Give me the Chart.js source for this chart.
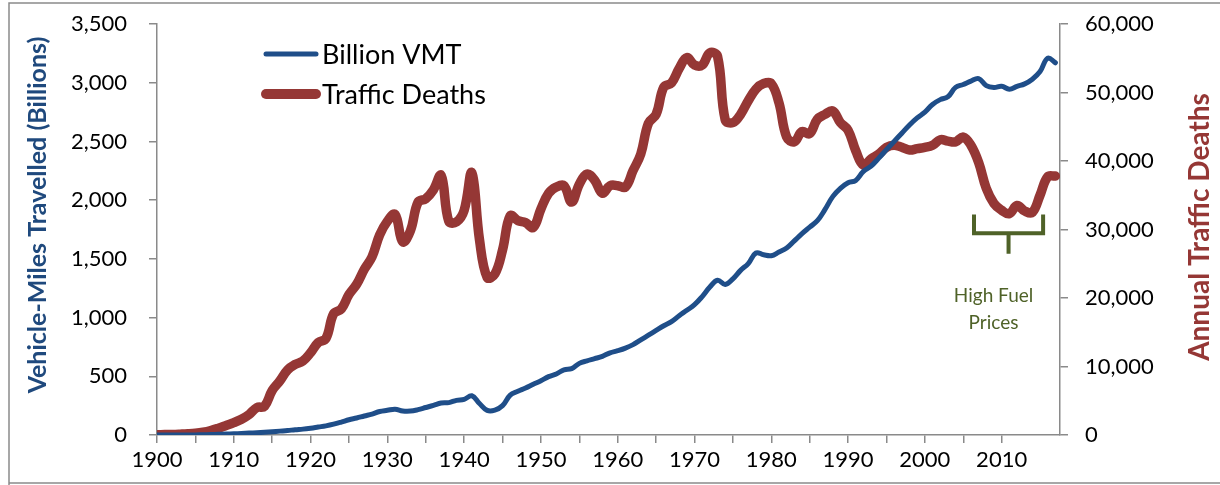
<!DOCTYPE html>
<html>
<head>
<meta charset="utf-8">
<script src="https://cdn.jsdelivr.net/npm/chart.js@4.4.1/dist/chart.umd.min.js"></script>
<style>
  body { margin: 0; background: #fff; }
  #grafico { display: block; }
</style>
</head>
<body>
<canvas id="grafico" width="1220" height="485"></canvas>
<script>
// years 1900..2017
const years = Array.from({ length: 118 }, (_, i) => 1900 + i);

// billions of vehicle-miles travelled (left axis)
const vmtBillions = [
  0, 0, 0, 0, 0, 1, 2, 4, 6, 8,
  10, 13, 16, 20, 24, 28, 33, 38, 45, 50,
  58, 68, 78, 92, 110, 130, 145, 162, 178, 200,
  210, 220, 205, 204, 216, 234, 252, 272, 276, 295,
  303, 334, 268, 210, 212, 250, 340, 372, 400, 432,
  462, 497, 520, 555, 565, 610, 632, 650, 670, 700,
  718, 740, 770, 810, 850, 890, 930, 965, 1016, 1062,
  1110, 1179, 1260, 1318, 1282, 1330, 1402, 1460, 1550, 1535,
  1527, 1558, 1592, 1653, 1715, 1770, 1825, 1921, 2030, 2100,
  2148, 2168, 2245, 2290, 2358, 2430, 2500, 2570, 2640, 2700,
  2750, 2815, 2856, 2880, 2960, 2985, 3014, 3035, 2975, 2960,
  2970, 2945, 2969, 2990, 3030, 3095, 3210, 3170
];

// annual traffic deaths (right axis)
const trafficDeaths = [
  40, 60, 80, 120, 170, 250, 400, 650, 1000, 1400,
  1800, 2300, 3000, 4000, 4200, 6500, 7900, 9500, 10300, 10800,
  12000, 13500, 14100, 17700, 18400, 20500, 22000, 24200, 26000, 29200,
  31200, 32200, 28200, 29800, 34000, 34500, 35800, 37900, 31200, 31100,
  32800, 38300, 28500, 23000, 23500, 27000, 32000, 31300, 31000, 30300,
  33000, 35300, 36200, 36400, 34000, 36600, 38100, 37200, 35300, 36400,
  36400, 36200, 38600, 41000, 45500, 46800, 50800, 51400, 53500, 55100,
  54000, 54000, 55800, 55300, 46000, 45600, 46800, 48800, 50500, 51300,
  51300, 48500, 43500, 42800, 44300, 44000, 46100, 46800, 47300, 45600,
  44500, 41500, 39400, 40300, 41000, 42000, 42300, 42000, 41600, 41800,
  42000, 42300, 43100, 42900, 42800, 43500, 42300, 39800, 36000, 33800,
  32800, 32300, 33500, 32700, 32500, 35000, 37700, 37800
];

const seriesNames = ['Billion VMT', 'Traffic Deaths'];
const fuelLabel = ['High Fuel', 'Prices'];
const fuelYears = [2006.4, 2015.4];

const AZUL = '#1F4E89';
const ROJO = '#953735';
const VERDE = '#4F6228';
const GRIS = '#8a8a8a';
const FUENTE = 'Lato, "Open Sans", sans-serif';

const decor = {
  id: 'decor',
  beforeDraw(chart) {
    const ctx = chart.ctx;
    ctx.save();
    ctx.fillStyle = '#fff';
    ctx.fillRect(0, 0, chart.width, chart.height);
    ctx.strokeStyle = GRIS;
    ctx.lineWidth = 1.5;
    ctx.beginPath();
    ctx.moveTo(9, 485); ctx.lineTo(9, 3); ctx.lineTo(1220, 3);
    ctx.moveTo(9, 483); ctx.lineTo(1220, 483);
    ctx.stroke();
    ctx.restore();
  },
  afterDraw(chart) {
    const ctx = chart.ctx;
    const x = chart.scales.x, y1 = chart.scales.y1;
    ctx.save();

    // axis titles
    ctx.textAlign = 'center';
    ctx.textBaseline = 'middle';
    ctx.font = 'bold 25px ' + FUENTE;
    ctx.fillStyle = '#1F497D';
    ctx.save();
    ctx.translate(38, 215);
    ctx.rotate(-Math.PI / 2);
    ctx.fillText('Vehicle-Miles Travelled (Billions)', 0, 0);
    ctx.restore();
    ctx.font = 'bold 28px ' + FUENTE;
    ctx.fillStyle = ROJO;
    ctx.save();
    ctx.translate(1200, 227);
    ctx.rotate(-Math.PI / 2);
    ctx.fillText('Annual Traffic Deaths', 0, 0);
    ctx.restore();

    // legend
    const filas = [[54, AZUL, 5], [94, ROJO, 10]];
    ctx.lineCap = 'round';
    ctx.textAlign = 'left';
    ctx.font = '27px ' + FUENTE;
    filas.forEach(([yy, color, w], i) => {
      ctx.strokeStyle = color;
      ctx.lineWidth = w;
      ctx.beginPath();
      ctx.moveTo(266, yy); ctx.lineTo(316, yy);
      ctx.stroke();
      ctx.fillStyle = '#000';
      ctx.fillText(seriesNames[i], 322, yy + 1);
    });

    // high fuel prices bracket
    const xa = x.getPixelForValue(fuelYears[0]);
    const xb = x.getPixelForValue(fuelYears[1]);
    const xm = (xa + xb) / 2;
    const top = y1.getPixelForValue(32200);
    const mid = y1.getPixelForValue(29450);
    const bot = y1.getPixelForValue(26450);
    ctx.strokeStyle = VERDE;
    ctx.lineWidth = 4;
    ctx.lineCap = 'butt';
    ctx.beginPath();
    ctx.moveTo(xa, top); ctx.lineTo(xa, mid); ctx.lineTo(xb, mid); ctx.lineTo(xb, top);
    ctx.moveTo(xm, mid); ctx.lineTo(xm, bot);
    ctx.stroke();
    ctx.fillStyle = VERDE;
    ctx.font = '19px ' + FUENTE;
    ctx.textAlign = 'center';
    ctx.fillText(fuelLabel[0], xm - 15, y1.getPixelForValue(20340));
    ctx.fillText(fuelLabel[1], xm - 15, y1.getPixelForValue(16430));
    ctx.restore();
  }
};

// keep the tick padding from pushing the plot area down
function ajustarEje(ancho) {
  return s => {
    s.width = ancho;
    s.paddingTop = 12;
    s.paddingBottom = 0;
  };
}

document.addEventListener('DOMContentLoaded', () => {
  const ctx = document.getElementById('grafico').getContext('2d');
  new Chart(ctx, {
    type: 'line',
    data: {
      datasets: [{
        label: seriesNames[0],
        data: years.map((a, i) => ({ x: a, y: vmtBillions[i] })),
        borderColor: AZUL,
        borderWidth: 5,
        yAxisID: 'y'
      }, {
        label: seriesNames[1],
        data: years.map((a, i) => ({ x: a, y: trafficDeaths[i] })),
        borderColor: ROJO,
        borderWidth: 9.5,
        yAxisID: 'y1'
      }]
    },
    options: {
      responsive: false,
      animation: false,
      devicePixelRatio: 1,
      layout: { padding: { top: 24, left: 0, right: 0, bottom: 0 } },
      elements: {
        point: { radius: 0 },
        line: { tension: 0.4, borderCapStyle: 'round', borderJoinStyle: 'round', fill: false }
      },
      plugins: { legend: { display: false }, tooltip: { enabled: false } },
      scales: {
        x: {
          type: 'linear',
          min: 1900,
          max: 2017.6,
          afterBuildTicks: s => { s.ticks = s.ticks.filter(t => t.value % 5 === 0); },
          afterFit: s => { s.height = 50; },
          border: { display: true, color: GRIS, width: 1.5 },
          grid: { drawOnChartArea: false, drawTicks: true, tickLength: 8, color: GRIS, lineWidth: 1.5 },
          ticks: {
            stepSize: 5,
            autoSkip: false,
            maxRotation: 0,
            padding: 4,
            color: '#000',
            font: { family: FUENTE, size: 22 },
            callback: v => (v % 10 === 0 ? String(v) : '')
          }
        },
        y: {
          position: 'left',
          min: 0,
          max: 3500,
          afterFit: ajustarEje(157),
          border: { display: true, color: GRIS, width: 1.5 },
          grid: { drawOnChartArea: false, drawTicks: true, tickLength: 8, color: GRIS, lineWidth: 1.5 },
          ticks: {
            stepSize: 500,
            padding: 22,
            color: '#000',
            font: { family: FUENTE, size: 22 },
            callback: v => v.toLocaleString('en-US')
          }
        },
        y1: {
          position: 'right',
          min: 0,
          max: 60000,
          afterFit: ajustarEje(160),
          border: { display: true, color: GRIS, width: 1.5 },
          grid: { drawOnChartArea: false, drawTicks: true, tickLength: 8, color: GRIS, lineWidth: 1.5 },
          ticks: {
            stepSize: 10000,
            padding: 17,
            color: '#000',
            font: { family: FUENTE, size: 22 },
            callback: v => v.toLocaleString('en-US')
          }
        }
      }
    },
    plugins: [decor]
  });
});
</script>
</body>
</html>
